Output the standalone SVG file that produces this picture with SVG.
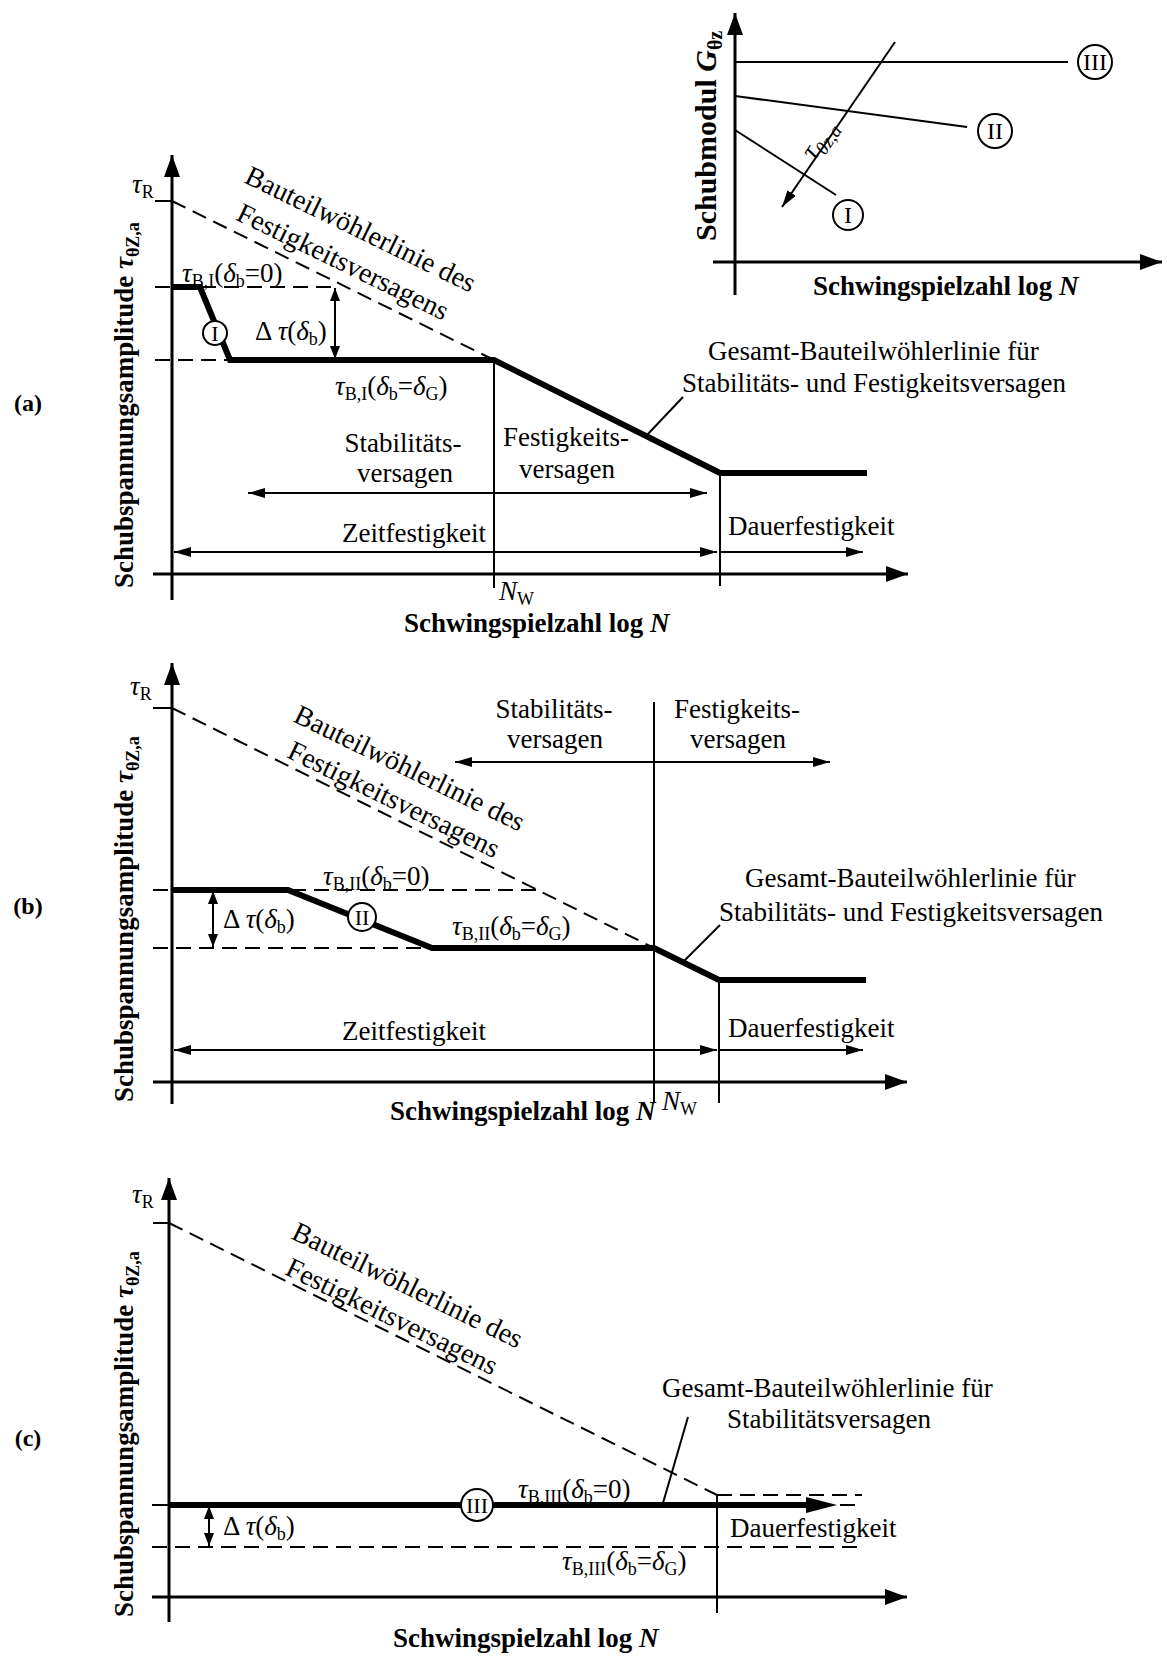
<svg xmlns="http://www.w3.org/2000/svg" width="1167" height="1656" viewBox="0 0 1167 1656">
<style>
.t{font-family:"Liberation Serif","Times New Roman",serif;font-size:27px;fill:#000}
.r{font-size:28px}
.b{font-weight:bold}
.i{font-style:italic}
.s{font-size:18px}
.ax{stroke:#000;stroke-width:3;fill:none}
.thin{stroke:#000;stroke-width:2;fill:none}
.thick{stroke:#000;stroke-width:6;fill:none;stroke-linejoin:miter}
.dash{stroke:#000;stroke-width:2;stroke-dasharray:15 8;fill:none}
.circ{stroke:#000;stroke-width:2;fill:#fff}
.rn{font-family:"Liberation Serif","Times New Roman",serif;font-size:24px;text-anchor:middle;fill:#000}
.rs{font-size:22px}
.lab{font-family:"Liberation Serif","Times New Roman",serif;font-size:24px;font-weight:bold;text-anchor:middle;fill:#000}
</style>
<defs>
<marker id="ah" viewBox="0 0 17 10" refX="17" refY="5" markerWidth="17" markerHeight="10" markerUnits="userSpaceOnUse" orient="auto-start-reverse"><path d="M0,0 L17,5 L0,10 z" fill="#000"/></marker>
<marker id="axh" viewBox="0 0 22 16" refX="22" refY="8" markerWidth="22" markerHeight="16" markerUnits="userSpaceOnUse" orient="auto"><path d="M0,0 L22,8 L0,16 z" fill="#000"/></marker>
<marker id="dh" viewBox="0 0 13 10" refX="13" refY="5" markerWidth="13" markerHeight="10" markerUnits="userSpaceOnUse" orient="auto-start-reverse"><path d="M0,0 L13,5 L0,10 z" fill="#000"/></marker>
</defs>
<rect width="1167" height="1656" fill="#fff"/>

<!-- ===== Inset (top right) ===== -->
<g id="inset">
  <line class="ax" x1="735" y1="295" x2="735" y2="13" marker-end="url(#axh)"/>
  <line class="ax" x1="713" y1="262" x2="1162" y2="262" marker-end="url(#axh)"/>
  <line class="thin" x1="735" y1="62" x2="1068" y2="62"/>
  <line class="thin" x1="735" y1="96" x2="967" y2="127"/>
  <line class="thin" x1="735" y1="130" x2="836" y2="195"/>
  <line class="thin" x1="895" y1="42" x2="782" y2="207" marker-end="url(#ah)"/>
  <g id="inset-c3"><circle class="circ" cx="1095" cy="62" r="17"/><text class="rn" x="1095" y="70">III</text></g>
  <g id="inset-c2"><circle class="circ" cx="995" cy="131" r="17"/><text class="rn" x="995" y="139">II</text></g>
  <g id="inset-c1"><circle class="circ" cx="848" cy="215" r="15"/><text class="rn" x="848" y="223">I</text></g>
  <text class="t" transform="translate(826,144) rotate(-56)" text-anchor="middle"><tspan class="i" style="font-size:28px">τ</tspan><tspan class="i" style="font-size:19px" dy="6">θz,a</tspan></text>
  <text class="t b" style="font-size:30px" transform="translate(716,241) rotate(-90)">Schubmodul <tspan class="i">G</tspan><tspan style="font-size:20px" dy="6">θz</tspan></text>
  <text class="t b" x="813" y="295">Schwingspielzahl log <tspan class="i">N</tspan></text>
</g>

<!-- ===== Panel (a) ===== -->
<g id="panel-a">
  <text class="lab" x="28" y="411">(a)</text>
  <line class="ax" x1="172" y1="600" x2="172" y2="155" marker-end="url(#axh)"/>
  <line class="ax" x1="153" y1="574" x2="908" y2="574" marker-end="url(#axh)"/>
  <line class="thin" x1="155" y1="201" x2="172" y2="201"/>
  <line class="dash" x1="172" y1="201" x2="494" y2="360"/>
  <line class="dash" x1="155" y1="287" x2="337" y2="287"/>
  <line class="dash" x1="155" y1="360" x2="230" y2="360"/>
  <polyline class="thick" points="172,287 200,287 230,360 494,360 720,473 867,473"/>
  <line class="thin" x1="494" y1="360" x2="494" y2="588"/>
  <line class="thin" x1="720" y1="473" x2="720" y2="586"/>
  <line class="thin" x1="335" y1="288" x2="335" y2="359" marker-start="url(#dh)" marker-end="url(#dh)"/>
  <line class="thin" x1="248" y1="493" x2="707" y2="493" marker-start="url(#ah)" marker-end="url(#ah)"/>
  <line class="thin" x1="174" y1="552" x2="717" y2="552" marker-start="url(#ah)" marker-end="url(#ah)"/>
  <line class="thin" x1="720" y1="552" x2="863" y2="552" marker-end="url(#ah)"/>
  <line class="thin" x1="647" y1="435" x2="683" y2="397"/>
  <g id="a-c1"><circle class="circ" cx="215" cy="333" r="12"/><text class="rn rs" x="215" y="341">I</text></g>
  <text class="t" x="132" y="193"><tspan class="i">τ</tspan><tspan class="s" dy="5">R</tspan></text>
  <g transform="translate(243,182) rotate(26)">
    <text class="t r" x="0" y="0">Bauteilwöhlerlinie des</text>
    <text class="t r" x="9" y="37">Festigkeitsversagens</text>
  </g>
  <text class="t" x="182" y="282"><tspan class="i">τ</tspan><tspan class="s" dy="5">B,I</tspan><tspan dy="-5">(</tspan><tspan class="i">δ</tspan><tspan class="s" dy="5">b</tspan><tspan dy="-5">=0)</tspan></text>
  <text class="t" x="255" y="340">Δ <tspan class="i">τ</tspan>(<tspan class="i">δ</tspan><tspan class="s" dy="5">b</tspan><tspan dy="-5">)</tspan></text>
  <text class="t" x="335" y="395"><tspan class="i">τ</tspan><tspan class="s" dy="5">B,I</tspan><tspan dy="-5">(</tspan><tspan class="i">δ</tspan><tspan class="s" dy="5">b</tspan><tspan dy="-5">=</tspan><tspan class="i">δ</tspan><tspan class="s" dy="5">G</tspan><tspan dy="-5">)</tspan></text>
  <text class="t" x="403" y="452" text-anchor="middle">Stabilitäts-</text>
  <text class="t" x="405" y="482" text-anchor="middle">versagen</text>
  <text class="t" x="566" y="446" text-anchor="middle">Festigkeits-</text>
  <text class="t" x="567" y="478" text-anchor="middle">versagen</text>
  <text class="t" x="414" y="542" text-anchor="middle">Zeitfestigkeit</text>
  <text class="t" x="728" y="535">Dauerfestigkeit</text>
  <text class="t" x="708" y="360">Gesamt-Bauteilwöhlerlinie für</text>
  <text class="t" x="682" y="392">Stabilitäts- und Festigkeitsversagen</text>
  <text class="t" x="499" y="600"><tspan class="i">N</tspan><tspan class="s" dy="5">W</tspan></text>
  <text class="t b" transform="translate(133,588) rotate(-90)">Schubspannungsamplitude <tspan class="i">τ</tspan><tspan class="s" dy="6">θZ,a</tspan></text>
  <text class="t b" x="404" y="632">Schwingspielzahl log <tspan class="i">N</tspan></text>
</g>

<!-- ===== Panel (b) ===== -->
<g id="panel-b">
  <text class="lab" x="28" y="914">(b)</text>
  <line class="ax" x1="172" y1="1104" x2="172" y2="663" marker-end="url(#axh)"/>
  <line class="ax" x1="153" y1="1082" x2="907" y2="1082" marker-end="url(#axh)"/>
  <line class="thin" x1="153" y1="708" x2="172" y2="708"/>
  <line class="dash" x1="172" y1="708" x2="654" y2="948"/>
  <line class="dash" x1="153" y1="890" x2="538" y2="890"/>
  <line class="dash" x1="153" y1="948" x2="432" y2="948"/>
  <polyline class="thick" points="172,890 288,890 432,948 654,948 719,980 866,980"/>
  <line class="thin" x1="654" y1="702" x2="654" y2="1103"/>
  <line class="thin" x1="719" y1="980" x2="719" y2="1103"/>
  <line class="thin" x1="213" y1="891" x2="213" y2="947" marker-start="url(#dh)" marker-end="url(#dh)"/>
  <line class="thin" x1="455" y1="762" x2="830" y2="762" marker-start="url(#ah)" marker-end="url(#ah)"/>
  <line class="thin" x1="174" y1="1050" x2="717" y2="1050" marker-start="url(#ah)" marker-end="url(#ah)"/>
  <line class="thin" x1="719" y1="1050" x2="863" y2="1050" marker-end="url(#ah)"/>
  <line class="thin" x1="683" y1="962" x2="720" y2="925"/>
  <g id="b-c2"><circle class="circ" cx="362" cy="917" r="14"/><text class="rn rs" x="362" y="925">II</text></g>
  <text class="t" x="130" y="695"><tspan class="i">τ</tspan><tspan class="s" dy="5">R</tspan></text>
  <g transform="translate(292,721) rotate(26)">
    <text class="t r" x="0" y="0">Bauteilwöhlerlinie des</text>
    <text class="t r" x="10" y="35">Festigkeitsversagens</text>
  </g>
  <text class="t" x="323" y="885"><tspan class="i">τ</tspan><tspan class="s" dy="5">B,II</tspan><tspan dy="-5">(</tspan><tspan class="i">δ</tspan><tspan class="s" dy="5">b</tspan><tspan dy="-5">=0)</tspan></text>
  <text class="t" x="223" y="928">Δ <tspan class="i">τ</tspan>(<tspan class="i">δ</tspan><tspan class="s" dy="5">b</tspan><tspan dy="-5">)</tspan></text>
  <text class="t" x="452" y="935"><tspan class="i">τ</tspan><tspan class="s" dy="5">B,II</tspan><tspan dy="-5">(</tspan><tspan class="i">δ</tspan><tspan class="s" dy="5">b</tspan><tspan dy="-5">=</tspan><tspan class="i">δ</tspan><tspan class="s" dy="5">G</tspan><tspan dy="-5">)</tspan></text>
  <text class="t" x="554" y="718" text-anchor="middle">Stabilitäts-</text>
  <text class="t" x="555" y="748" text-anchor="middle">versagen</text>
  <text class="t" x="737" y="718" text-anchor="middle">Festigkeits-</text>
  <text class="t" x="738" y="748" text-anchor="middle">versagen</text>
  <text class="t" x="414" y="1040" text-anchor="middle">Zeitfestigkeit</text>
  <text class="t" x="728" y="1037">Dauerfestigkeit</text>
  <text class="t" x="745" y="887">Gesamt-Bauteilwöhlerlinie für</text>
  <text class="t" x="719" y="921">Stabilitäts- und Festigkeitsversagen</text>
  <text class="t" x="662" y="1110"><tspan class="i">N</tspan><tspan class="s" dy="5">W</tspan></text>
  <text class="t b" transform="translate(133,1102) rotate(-90)">Schubspannungsamplitude <tspan class="i">τ</tspan><tspan class="s" dy="6">θZ,a</tspan></text>
  <text class="t b" x="390" y="1120">Schwingspielzahl log <tspan class="i">N</tspan></text>
</g>

<!-- ===== Panel (c) ===== -->
<g id="panel-c">
  <text class="lab" x="28" y="1446">(c)</text>
  <line class="ax" x1="169" y1="1622" x2="169" y2="1178" marker-end="url(#axh)"/>
  <line class="ax" x1="152" y1="1597" x2="907" y2="1597" marker-end="url(#axh)"/>
  <line class="thin" x1="153" y1="1223" x2="169" y2="1223"/>
  <line class="thin" x1="152" y1="1505" x2="169" y2="1505"/>
  <line class="dash" x1="169" y1="1223" x2="717" y2="1495"/>
  <line class="dash" x1="717" y1="1495" x2="862" y2="1495"/>
  <line class="dash" x1="840" y1="1505" x2="862" y2="1505"/>
  <line class="dash" x1="152" y1="1547" x2="862" y2="1547"/>
  <line class="thick" x1="169" y1="1505" x2="810" y2="1505"/>
  <polygon points="806,1497 837,1505 806,1513" fill="#000"/>
  <line class="thin" x1="717" y1="1495" x2="717" y2="1613"/>
  <line class="thin" x1="209" y1="1506" x2="209" y2="1546" marker-start="url(#dh)" marker-end="url(#dh)"/>
  <line class="thin" x1="663" y1="1503" x2="688" y2="1417"/>
  <g id="c-c3"><circle class="circ" cx="477" cy="1505" r="16"/><text class="rn rs" x="477" y="1513">III</text></g>
  <text class="t" x="132" y="1203"><tspan class="i">τ</tspan><tspan class="s" dy="5">R</tspan></text>
  <g transform="translate(290,1238) rotate(26)">
    <text class="t r" x="0" y="0">Bauteilwöhlerlinie des</text>
    <text class="t r" x="10" y="35">Festigkeitsversagens</text>
  </g>
  <text class="t" x="518" y="1498"><tspan class="i">τ</tspan><tspan class="s" dy="5">B,III</tspan><tspan dy="-5">(</tspan><tspan class="i">δ</tspan><tspan class="s" dy="5">b</tspan><tspan dy="-5">=0)</tspan></text>
  <text class="t" x="223" y="1535">Δ <tspan class="i">τ</tspan>(<tspan class="i">δ</tspan><tspan class="s" dy="5">b</tspan><tspan dy="-5">)</tspan></text>
  <text class="t" x="562" y="1570"><tspan class="i">τ</tspan><tspan class="s" dy="5">B,III</tspan><tspan dy="-5">(</tspan><tspan class="i">δ</tspan><tspan class="s" dy="5">b</tspan><tspan dy="-5">=</tspan><tspan class="i">δ</tspan><tspan class="s" dy="5">G</tspan><tspan dy="-5">)</tspan></text>
  <text class="t" x="730" y="1537">Dauerfestigkeit</text>
  <text class="t" x="662" y="1397">Gesamt-Bauteilwöhlerlinie für</text>
  <text class="t" x="727" y="1428">Stabilitätsversagen</text>
  <text class="t b" transform="translate(133,1617) rotate(-90)">Schubspannungsamplitude <tspan class="i">τ</tspan><tspan class="s" dy="6">θZ,a</tspan></text>
  <text class="t b" x="393" y="1647">Schwingspielzahl log <tspan class="i">N</tspan></text>
</g>
</svg>
